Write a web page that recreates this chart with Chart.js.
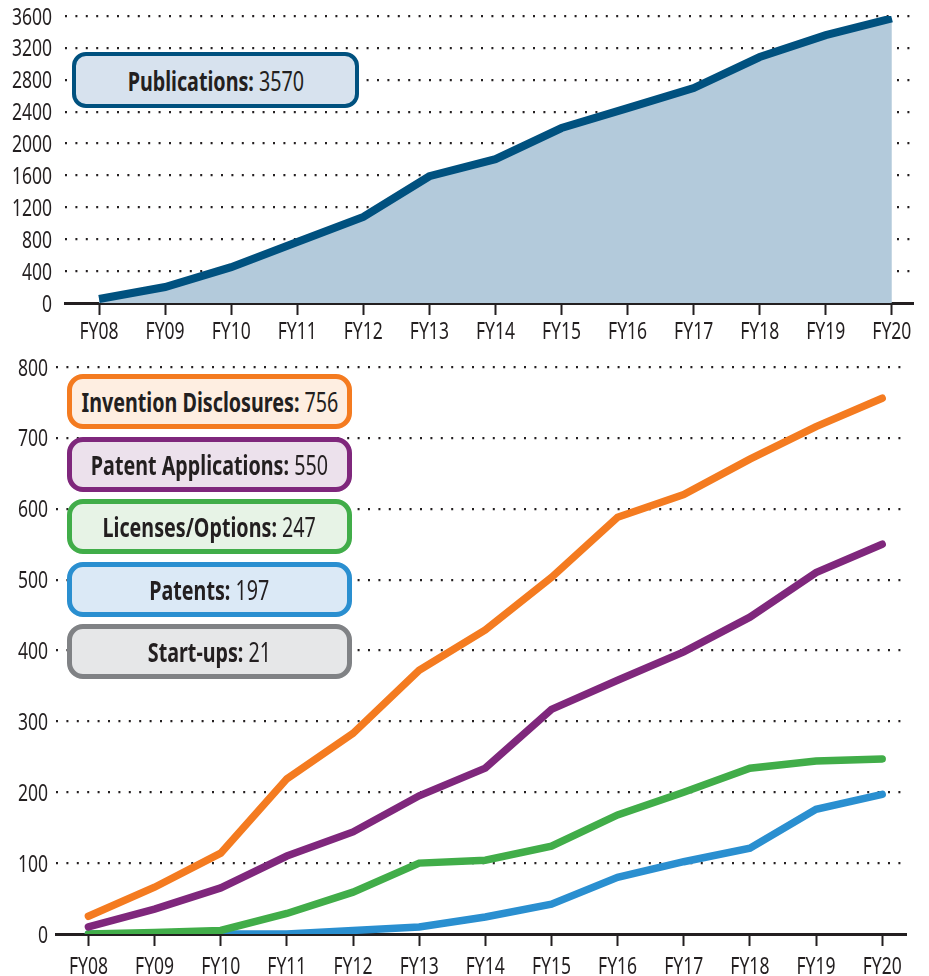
<!DOCTYPE html>
<html>
<head>
<meta charset="utf-8">
<script src="https://cdn.jsdelivr.net/npm/chart.js@4.4.0/dist/chart.umd.min.js"></script>
<style>
  body{margin:0;background:#fff;width:929px;height:976px;position:relative;overflow:hidden;
       font-family:"Noto Sans",sans-serif;color:#231f20}
  canvas{position:absolute;left:0}
  #pubChart{top:0}
  #activityChart{top:345px}
  .box{position:absolute;box-sizing:border-box;display:flex;align-items:center;justify-content:center;
       font-size:27px;white-space:nowrap}
  .box span{display:inline-block;transform:scaleX(0.73);letter-spacing:0}
  .box b{font-weight:bold}
</style>
</head>
<body>
<canvas id="pubChart" width="929" height="345"></canvas>
<canvas id="activityChart" width="929" height="631"></canvas>
<div id="boxes"></div>
<script>
const years = ["FY08","FY09","FY10","FY11","FY12","FY13","FY14","FY15","FY16","FY17","FY18","FY19","FY20"];

const publications = [50, 200, 450, 765, 1080, 1590, 1805, 2195, 2445, 2696, 3085, 3360, 3570];
const inventionDisclosures = [25, 66, 114, 219, 283, 372, 429, 503, 588, 620, 670, 716, 756];
const patentApplications = [10, 35, 65, 110, 144, 195, 234, 317, 358, 398, 447, 510, 550];
const licensesOptions = [0, 2, 5, 29, 59, 100, 104, 124, 168, 200, 234, 244, 247];
const patents = [0, 0, 0, 0, 5, 10, 24, 42, 80, 102, 121, 176, 197];

const pubTicks = [0, 400, 800, 1200, 1600, 2000, 2400, 2800, 3200, 3600];
const activityTicks = [0, 100, 200, 300, 400, 500, 600, 700, 800];

const boxNames = ["Invention Disclosures", "Patent Applications", "Licenses/Options", "Patents", "Start-ups"];
const boxTotals = [756, 550, 247, 197, 21];

const TEXT = "#231f20";
const FONT = "'Noto Sans', sans-serif";
const SQUEEZE = 0.73;   // fake a condensed face

const toPoints = vals => vals.map((v, i) => ({x: i, y: v}));

function drawNarrow(ctx, text, x, y, align){
    ctx.save();
    ctx.translate(x, y);
    ctx.scale(SQUEEZE, 1);
    ctx.textAlign = align;
    ctx.textBaseline = "alphabetic";
    ctx.fillText(text, 0, 0);
    ctx.restore();
}

// tick labels drawn squeezed, positions from the chart's own scales
const narrowLabels = {
    id: "narrowLabels",
    afterDraw(chart, args, opts){
        const ctx = chart.ctx;
        const xs = chart.scales.x, ys = chart.scales.y;
        ctx.save();
        ctx.fillStyle = TEXT;
        ctx.font = "24px " + FONT;
        xs.ticks.forEach(t => {
            drawNarrow(ctx, years[t.value], xs.getPixelForValue(t.value), xs.top + opts.xBase, "center");
        });
        ys.ticks.forEach(t => {
            drawNarrow(ctx, String(t.value), ys.right - opts.yGap, ys.getPixelForValue(t.value) + 8.5, "right");
        });
        ctx.restore();
    }
};

function xAxis(min, max){
    return {
        type: "linear", min: min, max: max,
        afterBuildTicks: s => { s.ticks = years.map((y, i) => ({value: i})); },
        ticks: {display: false},
        grid: {drawOnChartArea: false, drawTicks: true, tickLength: 12, tickWidth: 2, tickColor: TEXT},
        border: {display: true, color: TEXT, width: 3},
        afterFit: s => { s.height = 42; }
    };
}

function yAxis(max, tickList, width){
    return {
        min: 0, max: max,
        afterBuildTicks: s => { s.ticks = tickList.map(v => ({value: v})); },
        ticks: {display: false},
        grid: {color: TEXT, lineWidth: 2.2, drawTicks: false},
        border: {display: false, dash: [2, 8.4]},
        afterFit: s => { s.width = width; }
    };
}

const baseOptions = (x, y, top, right, labelOpts) => ({
    responsive: false,
    animation: false,
    devicePixelRatio: 1,
    layout: {padding: {top: top, right: right, left: 0, bottom: 0}},
    plugins: {legend: {display: false}, tooltip: {enabled: false}, narrowLabels: labelOpts},
    elements: {point: {radius: 0}, line: {tension: 0}},
    scales: {x: x, y: y}
});

new Chart(document.getElementById("pubChart"), {
    type: "line",
    data: {
        datasets: [{
            data: toPoints(publications),
            borderColor: "#00517f",
            backgroundColor: "#b3cadb",
            borderWidth: 8,
            fill: "origin"
        }]
    },
    options: baseOptions(xAxis(-0.515, 12.32), yAxis(3600, pubTicks, 65), 16, 16, {xBase: 35.5, yGap: 13}),
    plugins: [narrowLabels]
});

const lineSeries = [
    {data: inventionDisclosures, color: "#f47b20"},
    {data: patentApplications, color: "#7f277c"},
    {data: licensesOptions, color: "#41ad49"},
    {data: patents, color: "#2a8fd0"}
];

new Chart(document.getElementById("activityChart"), {
    type: "line",
    data: {
        datasets: lineSeries.map(s => ({
            data: toPoints(s.data),
            borderColor: s.color,
            borderWidth: 7.5,
            borderCapStyle: "round",
            fill: false
        }))
    },
    options: baseOptions(xAxis(-0.49, 12.36), yAxis(800, activityTicks, 56), 22, 23, {xBase: 40, yGap: 8}),
    plugins: [narrowLabels]
});

// label boxes
const boxColors = [
    ["#f47b20", "#feeee1"],
    ["#7f277c", "#ece1ec"],
    ["#41ad49", "#e7f3e6"],
    ["#2a8fd0", "#dbe9f6"],
    ["#808285", "#e6e7e8"]
];
const boxes = document.getElementById("boxes");

function addBox(name, total, left, top, w, h, border, fill, bw, r){
    const d = document.createElement("div");
    d.className = "box";
    d.style.cssText = `left:${left}px;top:${top}px;width:${w}px;height:${h}px;border:${bw}px solid ${border};background:${fill};border-radius:${r}px`;
    d.innerHTML = `<span><b>${name}:</b> ${total}</span>`;
    boxes.appendChild(d);
}

addBox("Publications", publications[publications.length - 1], 72, 52, 287, 56, "#00517f", "#d7e2ee", 4, 14);
boxNames.forEach((n, i) => {
    addBox(n, boxTotals[i], 67, 374 + i * 62.5, 285, 55, boxColors[i][0], boxColors[i][1], 5, 16);
});
</script>
</body>
</html>
